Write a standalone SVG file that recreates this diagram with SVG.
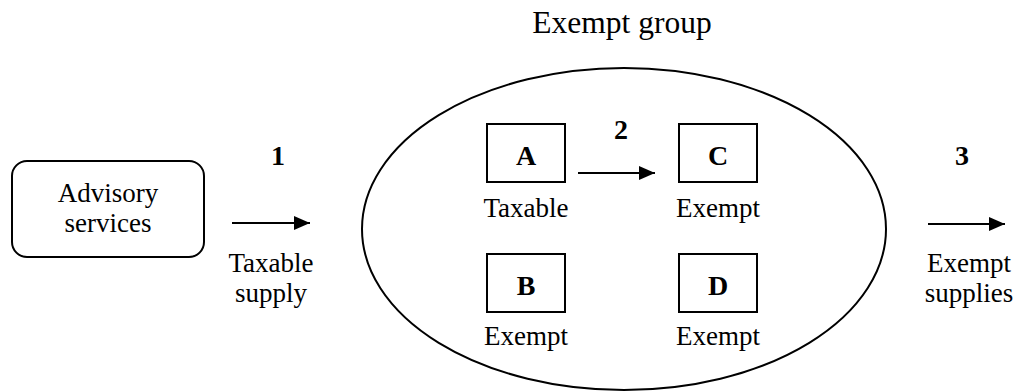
<svg xmlns="http://www.w3.org/2000/svg" width="1015" height="392" viewBox="0 0 1015 392">
<style>
.box{fill:#fff;stroke:#000;stroke-width:2}
.ln{stroke:#000;stroke-width:2;fill:none}
</style>
<defs>
<marker id="ah" markerWidth="16" markerHeight="14" refX="16" refY="7" orient="auto" markerUnits="userSpaceOnUse">
<path d="M0,0 L16,7 L0,14 Z" fill="#000"/>
</marker>
</defs>
<rect width="1015" height="392" fill="#fff"/>
<g font-family="Liberation Serif, Times New Roman, serif" fill="#000" text-anchor="middle">
<text x="622" y="33" font-size="31.5">Exempt group</text>
<g id="group">
<ellipse cx="624" cy="229" rx="262" ry="161" class="ln"/>
</g>
<g id="advisory" font-size="27">
<rect x="12" y="161" width="192" height="96" rx="15" ry="15" class="box"/>
<text x="108" y="202">Advisory</text>
<text x="108" y="232">services</text>
</g>
<g id="nodeA" font-size="27">
<rect x="487" y="124" width="78" height="58" class="box"/>
<text x="526" y="165" font-size="28" font-weight="bold">A</text>
<text x="526" y="217">Taxable</text>
</g>
<g id="nodeB" font-size="27">
<rect x="487" y="254" width="78" height="58" class="box"/>
<text x="526" y="295" font-size="28" font-weight="bold">B</text>
<text x="526" y="345">Exempt</text>
</g>
<g id="nodeC" font-size="27">
<rect x="679" y="124" width="78" height="58" class="box"/>
<text x="718" y="165" font-size="28" font-weight="bold">C</text>
<text x="718" y="217">Exempt</text>
</g>
<g id="nodeD" font-size="27">
<rect x="679" y="254" width="78" height="58" class="box"/>
<text x="718" y="295" font-size="28" font-weight="bold">D</text>
<text x="718" y="345">Exempt</text>
</g>
<g id="connectors">
<line x1="232" y1="223" x2="310" y2="223" class="ln" marker-end="url(#ah)"/>
<line x1="578" y1="173" x2="655" y2="173" class="ln" marker-end="url(#ah)"/>
<line x1="928" y1="224" x2="1005" y2="224" class="ln" marker-end="url(#ah)"/>
</g>
<g id="labels" font-size="27">
<text x="278" y="165" font-size="28" font-weight="bold">1</text>
<text x="271" y="272">Taxable</text>
<text x="271" y="302">supply</text>
<text x="621" y="139" font-size="28" font-weight="bold">2</text>
<text x="962" y="165" font-size="28" font-weight="bold">3</text>
<text x="969" y="272">Exempt</text>
<text x="969" y="302">supplies</text>
</g>
</g>
</svg>
